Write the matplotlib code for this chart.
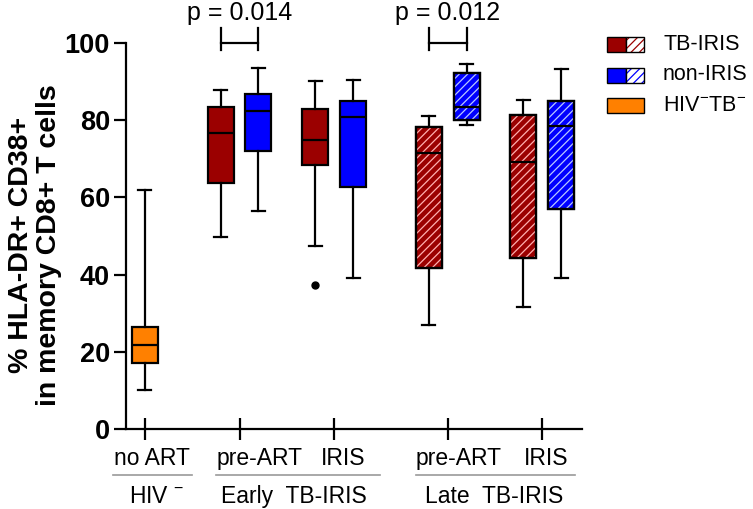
import numpy as np
import matplotlib
matplotlib.use("Agg")
import matplotlib.pyplot as plt
from matplotlib.patches import Rectangle, PathPatch

plt.rcParams["font.family"] = ["Liberation Sans", "DejaVu Sans"]
plt.rcParams["mathtext.fontset"] = "custom"
plt.rcParams["mathtext.rm"] = "Liberation Sans"
plt.rcParams["mathtext.it"] = "Liberation Sans"
plt.rcParams["hatch.linewidth"] = 0.9

# group centres on the x axis and the within-group offset of the two arms
group_pos = [0, 1, 2, 3.2, 4.2]
pair_offset = 0.2

# box statistics: (whislo, q1, median, q3, whishi)
hiv_neg = (10.1, 17.2, 21.8, 26.3, 62.0)
early_tbiris = [(49.7, 63.7, 76.7, 83.3, 87.9), (47.4, 68.3, 75.0, 83.0, 90.1)]
early_noniris = [(56.4, 71.9, 82.3, 86.8, 93.4), (39.1, 62.6, 80.8, 84.9, 90.5)]
late_tbiris = [(26.9, 41.8, 71.6, 78.3, 81.2), (31.6, 44.4, 69.1, 81.4, 85.3)]
late_noniris = [(78.7, 80.0, 83.4, 92.3, 94.6), (39.1, 57.0, 78.4, 85.0, 93.3)]
early_tbiris_fliers = [[], [37.3]]

p_values = ["p = 0.014", "p = 0.012"]
row1_labels = ["no ART", "pre-ART", "IRIS", "pre-ART", "IRIS"]
row1_pos = [0.07, 1.21, 2.1, 3.32, 4.24]
row2_labels = [r"HIV $^{-}$", "Early  TB-IRIS", "Late  TB-IRIS"]
row2_pos = [0.12, 1.57, 3.69]
underline_spans = [(-0.34, 0.5), (0.75, 2.49), (2.87, 4.55)]

RED = "#9b0000"
BLUE = "#0000ff"
ORANGE = "#ff8000"


def stat(vals, fliers=()):
    lo, q1, med, q3, hi = vals
    return dict(whislo=lo, q1=q1, med=med, q3=q3, whishi=hi, fliers=list(fliers))


fig = plt.figure(figsize=(7.53, 5.09), dpi=100)
ax = fig.add_axes([0.1673, 0.1572, 0.6056, 0.7583])

boxes = []  # (stats, position, colour, hatched)
boxes.append((stat(hiv_neg), group_pos[0], ORANGE, False))
for i in range(2):
    g = group_pos[1 + i]
    boxes.append((stat(early_tbiris[i], early_tbiris_fliers[i]), g - pair_offset, RED, False))
    boxes.append((stat(early_noniris[i]), g + pair_offset, BLUE, False))
for i in range(2):
    g = group_pos[3 + i]
    boxes.append((stat(late_tbiris[i]), g - pair_offset, RED, True))
    boxes.append((stat(late_noniris[i]), g + pair_offset, BLUE, True))

lw = 1.6
for st, pos, col, hatched in boxes:
    art = ax.bxp([st], positions=[pos], widths=0.275, patch_artist=True,
                 boxprops=dict(facecolor=col, edgecolor="black", linewidth=lw),
                 whiskerprops=dict(color="black", linewidth=lw),
                 capprops=dict(color="black", linewidth=lw),
                 medianprops=dict(color="black", linewidth=lw),
                 flierprops=dict(marker="o", markerfacecolor="black",
                                 markeredgecolor="black", markersize=5))
    if hatched:
        path = art["boxes"][0].get_path()
        hcol = "#ffb0b0" if col == RED else "#b8c8ff"
        ax.add_patch(PathPatch(path, facecolor="none", edgecolor=hcol,
                               hatch="////", linewidth=0, zorder=2.05))
        ax.add_patch(PathPatch(path, facecolor="none", edgecolor="black",
                               linewidth=lw, zorder=2.08))

# significance brackets between pre-ART arms
for g, txt in zip([group_pos[1], group_pos[3]], p_values):
    x0, x1 = g - pair_offset, g + pair_offset
    ax.plot([x0, x1], [100, 100], color="black", lw=lw, clip_on=False)
    ax.plot([x0, x0], [98.2, 104], color="black", lw=lw, clip_on=False)
    ax.plot([x1, x1], [98.2, 104], color="black", lw=lw, clip_on=False)
    ax.text(g, 106, txt, ha="center", va="baseline", fontsize=18)

ax.set_xlim(-0.2, 4.62)
ax.set_ylim(0, 100)
ax.set_yticks([0, 20, 40, 60, 80, 100])
ax.set_xticks(group_pos)
ax.set_xticklabels([])
for lab in ax.get_yticklabels():
    lab.set_fontweight("bold")
ax.tick_params(axis="y", direction="out", length=8.5, width=lw, labelsize=19.5, pad=3)
ax.tick_params(axis="x", direction="inout", length=16, width=lw)
for s in ["top", "right"]:
    ax.spines[s].set_visible(False)
for s in ["left", "bottom"]:
    ax.spines[s].set_linewidth(lw)

# two-row category labels under the axis
for lab, x in zip(row1_labels, row1_pos):
    ax.text(x, -9.3, lab, ha="center", va="baseline", fontsize=16.5, clip_on=False)
for x0, x1 in underline_spans:
    ax.plot([x0, x1], [-11.8, -11.8], color="#999999", lw=1.2, clip_on=False)
for lab, x in zip(row2_labels, row2_pos):
    ax.text(x, -19.3, lab, ha="center", va="baseline", fontsize=16.5, clip_on=False)

fig.text(0.046, 0.519, "% HLA-DR+ CD38+\nin memory CD8+ T cells", rotation=90,
         ha="center", va="center", multialignment="center", fontsize=20.5,
         fontweight="bold", linespacing=1.1)

# legend drawn in figure pixels
W, H = 753.0, 509.0
legend_rows = [("TB-IRIS", RED, True), ("non-IRIS", BLUE, True), (r"HIV$^{-}$TB$^{-}$", ORANGE, False)]
row_tops = [37, 67.5, 98]
for (lab, col, split), top in zip(legend_rows, row_tops):
    y0 = (H - top - 15) / H
    h = 15 / H
    if split:
        fig.add_artist(Rectangle((607 / W, y0), 19 / W, h, transform=fig.transFigure,
                                 facecolor=col, edgecolor="black", lw=1))
        fig.add_artist(Rectangle((626 / W, y0), 18 / W, h, transform=fig.transFigure,
                                 facecolor="white", edgecolor=col, hatch="////", lw=0))
        fig.add_artist(Rectangle((626 / W, y0), 18 / W, h, transform=fig.transFigure,
                                 facecolor="none", edgecolor="black", lw=1))
    else:
        fig.add_artist(Rectangle((607 / W, y0), 37 / W, h, transform=fig.transFigure,
                                 facecolor=col, edgecolor="black", lw=1))
    fig.text(663 / W, y0 + h / 2, lab, ha="left", va="center", fontsize=15.5)

fig.savefig("out.png", dpi=100)
